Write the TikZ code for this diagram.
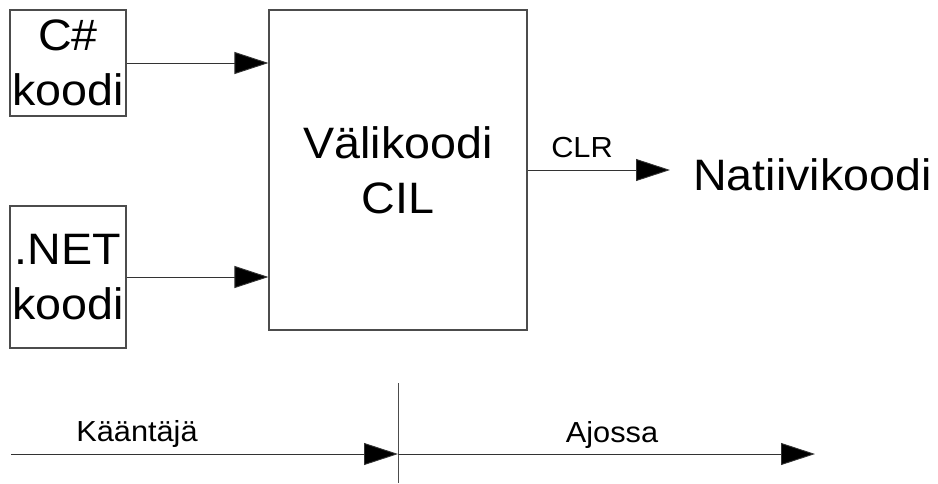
\documentclass[tikz,border=0pt]{standalone}
\usepackage{fontspec}
\setmainfont{Liberation Sans}[FakeStretch=1.06]
\usetikzlibrary{arrows.meta}
\tikzset{
  box/.style={draw=black!70, line width=1.1pt, inner sep=0pt, align=center,
    font=\fontsize{44}{55}\selectfont},
  conn/.style={draw=black!80, line width=0.9pt,
    -{Triangle[length=34pt,width=22pt,fill=black]}},
  big/.style={inner sep=0pt, font=\fontsize{44}{55}\selectfont},
  small/.style={inner sep=0pt, font=\fontsize{29}{35}\selectfont},
}
\begin{document}
\begin{tikzpicture}[x=1pt,y=-1pt]
\useasboundingbox (0,0) rectangle (938,483);
\node[box, minimum width=116pt, minimum height=106pt] (cs) at (68,63) {C\#\\koodi};
\node[box, minimum width=116pt, minimum height=142pt] (net) at (68,277) {.NET\\koodi};
\node[box, minimum width=258pt, minimum height=320pt] (cil) at (398,170) {Välikoodi\\CIL};
\node[big, anchor=base west] (native) at (693,190) {Natiivikoodi};
\node[small, anchor=base] (clr) at (582,157) {CLR};
\draw[conn] (cs.east) -- (cs.east -| cil.west);
\draw[conn] (net.east) -- (net.east -| cil.west);
\draw[conn, shorten >=23pt] (cil.east) -- (cil.east -| native.west);
% time line
\coordinate (divtop) at (398,383);
\coordinate (divbot) at (398,483);
\coordinate (start) at (11,454);
\coordinate (mid) at (398,454);
\coordinate (fin) at (815,454);
\draw[draw=black!70, line width=0.9pt] (divtop) -- (divbot);
\draw[conn] (start) -- (mid);
\draw[conn] (mid) -- (fin);
\node[small, anchor=base] (comp) at (137,441) {Kääntäjä};
\node[small, anchor=base] (run) at (612,442) {Ajossa};
\end{tikzpicture}
\end{document}
